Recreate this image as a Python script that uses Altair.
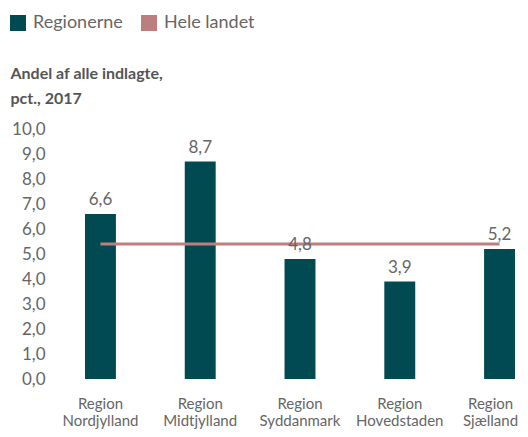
import altair as alt
import pandas as pd

regions = ["Region Nordjylland", "Region Midtjylland", "Region Syddanmark",
           "Region Hovedstaden", "Region Sjælland"]
values = [6.6, 8.7, 4.8, 3.9, 5.2]
national = 5.4
series = ["Regionerne", "Hele landet"]
colors = ["#024A52", "#BC7E7E"]
y_ticks = [0, 1, 2, 3, 4, 5, 6, 7, 8, 9, 10]

df = pd.DataFrame({
    "region": regions,
    "value": values,
    "national": [national] * len(regions),
    "series": [series[0]] * len(regions),
})

FONT = "Lato"
GREY = "#666666"

x = alt.X("region:N", sort=regions, title=None,
          scale=alt.Scale(paddingInner=0.69, paddingOuter=0.05),
          axis=alt.Axis(labelAngle=0, domain=False, ticks=False,
                        labelExpr="split(datum.label, ' ')",
                        labelFontSize=15, labelLineHeight=17,
                        labelPadding=17, labelColor=GREY, labelFont=FONT,
                        labelOverlap=False,
                        labelOffset={"condition": {"test": "datum.value == 'Region Sjælland'",
                                                   "value": -9},
                                     "value": 0}))

y_axis = alt.Axis(
    values=y_ticks, labelOverlap=False, tickCount=11,
    labelExpr="replace(format(datum.value, '.1f'), '.', ',')",
    domain=False, ticks=False, grid=False,
    labelFontSize=17, labelColor=GREY, labelFont=FONT, labelPadding=35,
    title=["Andel af alle indlagte,", "pct., 2017"],
    titleAngle=0, titleAlign="left", titleBaseline="alphabetic",
    titleX=-70, titleY=-51, titleLineHeight=25,
    titleFontSize=16, titleFontWeight="bold", titleColor="#555555", titleFont=FONT,
)
y_scale = alt.Scale(domain=[0, 10], nice=False)

base = alt.Chart(df).encode(x=x)

bars = base.mark_bar().encode(
    y=alt.Y("value:Q", scale=y_scale, axis=y_axis),
    color=alt.Color("series:N",
                    scale=alt.Scale(domain=series, range=colors),
                    legend=alt.Legend(
                        title=None, orient="none", direction="horizontal",
                        legendX=-71, legendY=-115, padding=0,
                        symbolType="square", symbolSize=256,
                        symbolStrokeWidth=0, symbolOpacity=1,
                        labelFontSize=18, labelColor=GREY, labelFont=FONT,
                        labelOffset=6, columnPadding=17)),
)

labels = base.mark_text(baseline="alphabetic", dy=-9, fontSize=17,
                        color=GREY, font=FONT).transform_calculate(
    lab="replace(format(datum.value, '.1f'), '.', ',')"
).encode(y=alt.Y("value:Q", scale=y_scale, axis=y_axis), text="lab:N")

line = base.mark_line(color=colors[1], strokeWidth=3).encode(
    y=alt.Y("national:Q", scale=y_scale, axis=y_axis)
)

chart = alt.layer(bars, line, labels).properties(
    width=440, height=250,
    autosize=alt.AutoSizeParams(type="none"),
    padding={"left": 72, "top": 121, "right": 0, "bottom": 50},
).configure_view(stroke=None)

chart.save("out.html", embed_options={"renderer": "svg", "actions": False})
